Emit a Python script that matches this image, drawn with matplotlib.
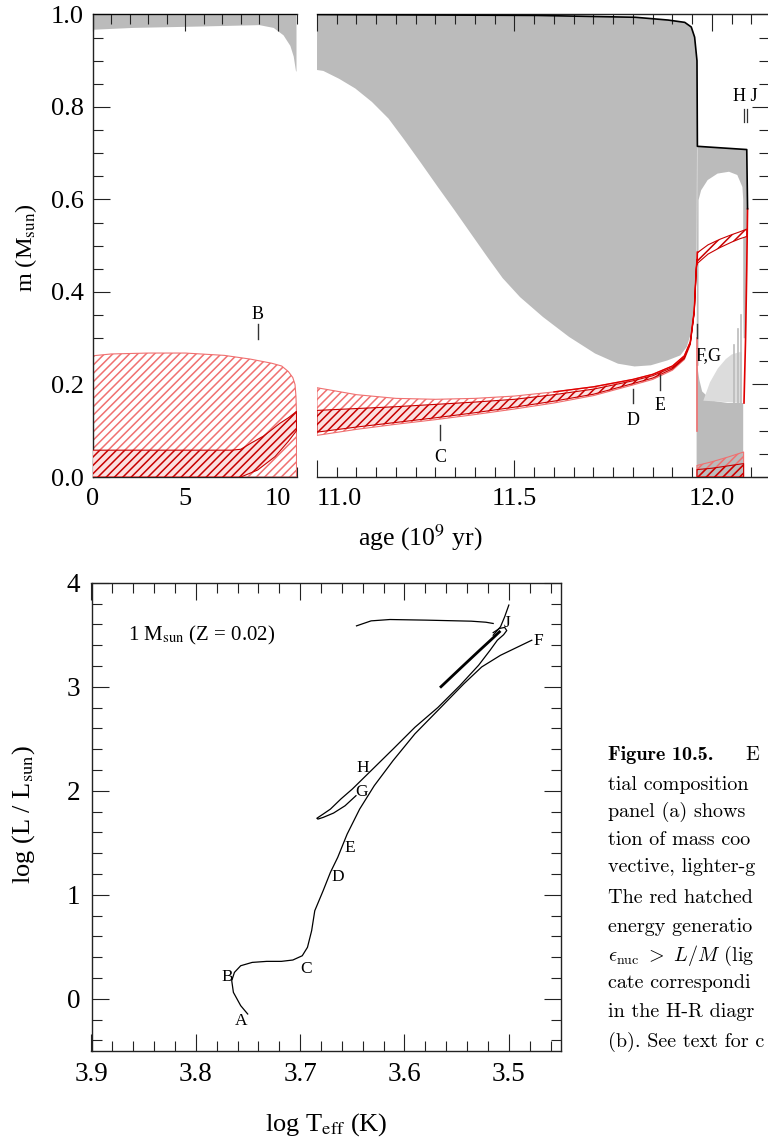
import numpy as np
import matplotlib
matplotlib.use('Agg')
import matplotlib.pyplot as plt
from matplotlib.ticker import MultipleLocator, FixedLocator, FixedFormatter, FormatStrFormatter

plt.rcParams['font.family'] = ['Liberation Serif', 'DejaVu Serif']
plt.rcParams['mathtext.fontset'] = 'stix'
plt.rcParams['hatch.linewidth'] = 1.1
plt.rcParams['axes.unicode_minus'] = False

# ---------------- data: Kippenhahn diagram, main sequence part (Gyr, Msun) ----------------
env_ms_t = [0.0, 2.2, 5.8, 9.0, 9.77, 10.3, 10.67, 10.85, 10.97, 11.0]
env_ms_m = [0.967, 0.971, 0.974, 0.977, 0.971, 0.955, 0.932, 0.909, 0.878, 0.876]

nuc1_ms_t = [0.0, 1.0, 3.0, 5.0, 7.1, 8.5, 9.66, 10.2, 10.56, 10.8, 10.92, 10.97, 11.0, 11.0]
nuc1_ms_m = [0.262, 0.266, 0.268, 0.268, 0.263, 0.255, 0.246, 0.240, 0.228, 0.215, 0.200, 0.175, 0.14, 0.0]

nuc5_ms_top_t = [0.0, 7.5, 8.0, 8.58, 9.2, 9.66, 10.1, 10.56, 10.85, 11.0]
nuc5_ms_top_m = [0.058, 0.058, 0.060, 0.074, 0.088, 0.102, 0.116, 0.128, 0.137, 0.142]
nuc5_ms_bot_t = [11.0, 10.56, 9.84, 8.9, 8.0, 0.0]
nuc5_ms_bot_m = [0.100, 0.077, 0.044, 0.015, 0.0, 0.0]

# ---------------- data: Kippenhahn diagram, giant phases ----------------
env_rg_t = [11.0, 11.016, 11.056, 11.097, 11.139, 11.181, 11.222, 11.264, 11.306, 11.348,
            11.389, 11.431, 11.47, 11.514, 11.572, 11.638, 11.704, 11.762, 11.804, 11.845,
            11.887, 11.920, 11.936, 11.949, 11.957, 11.961, 11.962]
env_rg_m = [0.880, 0.878, 0.861, 0.840, 0.811, 0.775, 0.728, 0.678, 0.627, 0.577,
            0.527, 0.476, 0.430, 0.389, 0.346, 0.303, 0.267, 0.245, 0.239, 0.2415,
            0.252, 0.263, 0.281, 0.317, 0.389, 0.461, 0.70]

surf_t = [11.0, 11.556, 11.806, 11.889, 11.931, 11.9475, 11.956, 11.962, 11.963, 12.088, 12.090]
surf_m = [1.0, 0.998, 0.994, 0.988, 0.983, 0.973, 0.951, 0.90, 0.715, 0.708, 0.58]

# envelope convection after the helium flash (outer outline, then inner white dome)
env_hb_t = [11.961, 11.963, 12.088, 12.089, 12.086, 12.080, 12.075, 11.966]
env_hb_m = [0.24, 0.715, 0.708, 0.58, 0.30, 0.30, 0.60, 0.24]
dome_t = [11.966, 11.966, 11.9725, 11.989, 12.014, 12.043, 12.064, 12.077, 12.079, 12.079]
dome_m = [0.16, 0.599, 0.620, 0.642, 0.656, 0.660, 0.653, 0.627, 0.600, 0.16]

# convective helium-burning core (mid grey) and semiconvection (light grey)
core_t = [11.961, 11.961, 11.968, 11.975, 12.0, 12.04, 12.079, 12.079]
core_m = [0.0, 0.25, 0.21, 0.185, 0.165, 0.160, 0.160, 0.0]
semi_t = [11.978, 11.995, 12.015, 12.035, 12.05, 12.07, 12.075, 12.075]
semi_m = [0.165, 0.205, 0.235, 0.255, 0.265, 0.27, 0.27, 0.160]
spike_t = [12.056, 12.066, 12.074]
spike_m = [0.285, 0.32, 0.35]

# hydrogen-burning shell band
band_t = [11.0, 11.1, 11.2, 11.3, 11.4, 11.5, 11.6, 11.7, 11.8, 11.85, 11.9, 11.93, 11.945, 11.955, 11.96, 11.962]
band1_hi = [0.193, 0.178, 0.170, 0.168, 0.170, 0.175, 0.184, 0.195, 0.211, 0.222, 0.240, 0.262, 0.292, 0.36, 0.45, 0.47]
band1_lo = [0.090, 0.103, 0.114, 0.124, 0.135, 0.147, 0.160, 0.176, 0.199, 0.211, 0.231, 0.254, 0.286, 0.354, 0.445, 0.465]
band5_hi = [0.144, 0.148, 0.152, 0.157, 0.162, 0.168, 0.178, 0.190, 0.208, 0.219, 0.237, 0.259, 0.290, 0.358, 0.448, 0.468]
band5_lo = [0.097, 0.108, 0.118, 0.128, 0.139, 0.151, 0.164, 0.179, 0.202, 0.214, 0.234, 0.256, 0.288, 0.356, 0.446, 0.466]

shell_hb_t = [11.963, 11.99, 12.02, 12.05, 12.07, 12.088]
shell_hb_hi = [0.485, 0.502, 0.514, 0.524, 0.530, 0.536]
shell_hb_lo = [0.462, 0.482, 0.496, 0.508, 0.515, 0.520]

heburn_t = [11.962, 12.0, 12.04, 12.08]
heburn1_hi = [0.025, 0.033, 0.043, 0.054]
heburn5_hi = [0.016, 0.019, 0.024, 0.029]

redline_t = [12.090, 12.088, 12.085, 12.081]
redline_m = [0.58, 0.45, 0.30, 0.16]
lightline_t = [11.961, 11.961]
lightline_m = [0.30, 0.10]

# phase markers in the Kippenhahn diagram: (label, t, tick bottom, tick top, label m)
kip_marks_left = [('B', 8.92, 0.299, 0.331, 0.352)]
kip_marks_right = [('C', 11.311, 0.079, 0.112, 0.043),
                   ('D', 11.800, 0.159, 0.191, 0.123),
                   ('E', 11.868, 0.189, 0.220, 0.155)]

# ---------------- data: H-R diagram ----------------
trk1_logT = [3.7503, 3.757, 3.764, 3.7656, 3.763, 3.757, 3.746, 3.732, 3.718, 3.707, 3.698, 3.693,
             3.689, 3.686, 3.682, 3.678, 3.671, 3.664, 3.655, 3.643, 3.629, 3.611, 3.590, 3.568,
             3.543, 3.526, 3.508, 3.490, 3.478]
trk1_logL = [-0.147, -0.067, 0.061, 0.173, 0.253, 0.317, 0.349, 0.359, 0.359, 0.372, 0.413, 0.494,
             0.654, 0.846, 0.942, 1.038, 1.215, 1.359, 1.582, 1.823, 2.048, 2.289, 2.547, 2.772,
             3.029, 3.190, 3.302, 3.389, 3.447]
trk2_logT = [3.6465, 3.657, 3.668, 3.678, 3.683, 3.684, 3.678, 3.671, 3.661, 3.650, 3.632, 3.611,
             3.590, 3.568, 3.547, 3.529, 3.518, 3.511, 3.505, 3.502, 3.504, 3.509, 3.515]
trk2_logL = [1.952, 1.855, 1.785, 1.743, 1.727, 1.735, 1.775, 1.823, 1.92, 2.016, 2.193, 2.40,
             2.61, 2.80, 3.01, 3.206, 3.35, 3.447, 3.50, 3.54, 3.57, 3.56, 3.52]
tp_logT = [3.565, 3.545, 3.528, 3.515, 3.509]
tp_logL = [3.0, 3.19, 3.35, 3.47, 3.527]
agb_logT = [3.515, 3.508, 3.504, 3.500]
agb_logL = [3.495, 3.576, 3.672, 3.785]
pagb_logT = [3.515, 3.522, 3.536, 3.579, 3.614, 3.632, 3.646]
pagb_logL = [3.608, 3.62, 3.630, 3.64, 3.646, 3.633, 3.585]
hr_labels = ['A', 'B', 'C', 'D', 'E', 'F', 'G', 'H', 'J']
hr_lab_logT = [3.757, 3.770, 3.694, 3.664, 3.652, 3.472, 3.641, 3.640, 3.502]
hr_lab_logL = [-0.21, 0.205, 0.285, 1.167, 1.453, 3.44, 1.99, 2.22, 3.61]

caption_lines = ['tial composition', 'panel (a) shows', 'tion of mass coo',
                 'vective, lighter-g', 'The red hatched', 'energy generatio',
                 r'$\epsilon_{\rm nuc}\ >\ L/M$ (lig', 'cate correspondi', 'in the H-R diagr',
                 '(b). See text for c']

# ---------------- figure ----------------
W, H = 768, 1141
fig = plt.figure(figsize=(W / 100, H / 100), dpi=100)

def px_axes(x0, x1, y0, y1):
    return fig.add_axes([x0 / W, 1 - y1 / H, (x1 - x0) / W, (y1 - y0) / H])

ax1 = px_axes(92.5, 296.5, 14.5, 477)
ax2 = px_axes(317, 769, 14.5, 477)
ax3 = px_axes(91.5, 561, 582.7, 1050.7)

GREY = '#bbbbbb'
LGREY = '#dcdcdc'
LRED = '#f07070'
DRED = '#c80000'
SPC = '#222222'
TICKFS = 19

# --- left Kippenhahn panel ---
ax1.fill(np.r_[env_ms_t, env_ms_t[::-1]], np.r_[env_ms_m, np.ones(len(env_ms_m))],
         color=GREY, lw=0, zorder=1)
ax1.fill(np.r_[nuc1_ms_t, [0.0]], np.r_[nuc1_ms_m, [0.0]], facecolor='white',
         edgecolor=LRED, hatch='////', lw=0.8, zorder=2)
ax1.fill(np.r_[nuc5_ms_top_t, nuc5_ms_bot_t], np.r_[nuc5_ms_top_m, nuc5_ms_bot_m],
         facecolor='#fbe0e0', edgecolor=DRED, hatch='////', lw=0.8, zorder=3)
ax1.plot([0, 11], [1.0, 1.0], color='k', lw=1.2, zorder=5)
for lab, t, m0, m1, ml in kip_marks_left:
    ax1.plot([t, t], [m0, m1], color='#333333', lw=1.0, zorder=6)
    ax1.text(t, ml, lab, ha='center', va='center', fontsize=13)
ax1.set_xlim(0, 11)
ax1.set_ylim(0, 1)
ax1.spines['right'].set_visible(False)
ax1.xaxis.set_major_locator(FixedLocator([0, 5, 10]))
ax1.xaxis.set_minor_locator(MultipleLocator(1))
ax1.yaxis.set_major_locator(MultipleLocator(0.2))
ax1.yaxis.set_minor_locator(MultipleLocator(0.05))
ax1.yaxis.set_major_formatter(FormatStrFormatter('%.1f'))
ax1.tick_params(which='both', direction='in', top=True, right=False, labelsize=TICKFS,
                color=SPC, width=0.8)
ax1.tick_params(which='major', length=12.5, pad=6)
ax1.tick_params(which='minor', length=7)
ax1.tick_params(axis='x', which='major', pad=8)

# --- right Kippenhahn panel ---
ax2.fill(np.r_[env_rg_t, surf_t[:8][::-1]], np.r_[env_rg_m, surf_m[:8][::-1]],
         color=GREY, lw=0, zorder=1)
ax2.fill(env_hb_t, env_hb_m, color=GREY, lw=0, zorder=1)
ax2.fill(dome_t, dome_m, color='white', lw=0, zorder=2)
ax2.fill(core_t, core_m, color=GREY, lw=0, zorder=3)
ax2.fill(semi_t, semi_m, color=LGREY, lw=0, zorder=3)
for t, m in zip(spike_t, spike_m):
    ax2.plot([t, t], [0.16, m], color=GREY, lw=1.2, zorder=3)
ax2.fill_between(band_t, band1_lo, band1_hi, facecolor='white', edgecolor=LRED,
                 hatch='////', lw=0.8, zorder=4)
ax2.fill_between(band_t, band5_lo, band5_hi, facecolor='#fbe0e0', edgecolor=DRED,
                 hatch='////', lw=0.8, zorder=5)
ax2.fill_between(shell_hb_t, shell_hb_lo, shell_hb_hi, facecolor='white', edgecolor=DRED,
                 hatch='////', lw=0.8, zorder=5)
ax2.fill_between(heburn_t, 0, heburn1_hi, facecolor='none', edgecolor=LRED,
                 hatch='////', lw=0.8, zorder=4)
ax2.fill_between(heburn_t, 0, heburn5_hi, facecolor='none', edgecolor=DRED,
                 hatch='////', lw=0.8, zorder=5)
ax2.plot(band_t[6:], band1_hi[6:], color='#e00000', lw=1.0, zorder=6)
ax2.plot(redline_t, redline_m, color='#e00000', lw=1.2, zorder=6)
ax2.plot(lightline_t, lightline_m, color=LRED, lw=1.2, zorder=6)
ax2.plot([11.962, 11.963], [0.46, 0.486], color='#e00000', lw=1.2, zorder=6)
ax2.plot(surf_t, surf_m, color='k', lw=1.2, zorder=7)
for lab, t, m0, m1, ml in kip_marks_right:
    ax2.plot([t, t], [m0, m1], color='#333333', lw=1.0, zorder=8)
    ax2.text(t, ml, lab, ha='center', va='center', fontsize=13)
ax2.plot([11.961, 11.961], [0.30, 0.33], color='#333333', lw=1.0, zorder=8)
ax2.text(11.959, 0.262, 'F,G', ha='left', va='center', fontsize=13)
ax2.plot([12.080, 12.080], [0.768, 0.796], color='#333333', lw=0.9, zorder=8)
ax2.plot([12.089, 12.089], [0.768, 0.796], color='#333333', lw=0.9, zorder=8)
ax2.text(12.084, 0.822, 'H J', ha='center', va='center', fontsize=13)
ax2.set_xlim(11.0, 11.0 + 452 / 395)
ax2.set_ylim(0, 1)
ax2.spines['left'].set_visible(False)
ax2.xaxis.set_major_locator(FixedLocator([11.0, 11.5, 12.0]))
ax2.xaxis.set_major_formatter(FixedFormatter(['11.0', '11.5', '12.0']))
ax2.xaxis.set_minor_locator(MultipleLocator(0.05))
ax2.yaxis.set_major_locator(MultipleLocator(0.2))
ax2.yaxis.set_minor_locator(MultipleLocator(0.05))
ax2.tick_params(which='both', direction='in', top=True, left=False, right=True,
                labelleft=False, labelsize=TICKFS, color=SPC, width=0.8)
ax2.tick_params(which='major', length=12.5, pad=8)
ax2.tick_params(which='minor', length=7)
ax2.get_xticklabels()[0].set_horizontalalignment('left')

for ax in (ax1, ax2, ax3):
    for s in ax.spines.values():
        s.set_color(SPC)
        s.set_linewidth(1.0)

fig.text(26 / W, 1 - 248 / H, r'm (M$_{\rm sun}$)', rotation=90, ha='center', va='center', fontsize=17.5)
fig.text(420 / W, 1 - 538 / H, r'age (10$^9$ yr)', ha='center', va='center', fontsize=18.5)

# --- H-R diagram ---
ax3.plot(trk1_logT, trk1_logL, color='k', lw=0.9)
ax3.plot(trk2_logT, trk2_logL, color='k', lw=0.9)
ax3.plot(tp_logT, tp_logL, color='k', lw=2.0)
ax3.plot(agb_logT, agb_logL, color='k', lw=0.9)
ax3.plot(pagb_logT, pagb_logL, color='k', lw=0.9)
for lab, lt, ll in zip(hr_labels, hr_lab_logT, hr_lab_logL):
    ax3.text(lt, ll, lab, ha='center', va='center', fontsize=12.5)
ax3.text(3.865, 3.495, r'1 M$_{\rm sun}$ (Z = 0.02)', ha='left', va='center', fontsize=15)
ax3.set_xlim(3.9, 3.45)
ax3.set_ylim(-0.5, 4)
ax3.xaxis.set_major_locator(MultipleLocator(0.1))
ax3.xaxis.set_minor_locator(MultipleLocator(0.02))
ax3.yaxis.set_major_locator(MultipleLocator(1))
ax3.yaxis.set_minor_locator(MultipleLocator(0.2))
ax3.xaxis.set_major_formatter(FormatStrFormatter('%.1f'))
ax3.yaxis.set_major_formatter(FormatStrFormatter('%d'))
ax3.tick_params(which='both', direction='in', top=True, right=True, labelsize=19.5,
                color=SPC, width=0.8)
ax3.tick_params(which='major', length=12, pad=8)
ax3.tick_params(which='minor', length=7.5)
fig.text(24 / W, 1 - 815 / H, r'log (L / L$_{\rm sun}$)', rotation=90, ha='center', va='center', fontsize=19)
fig.text(326 / W, 1 - 1125 / H, r'log T$_{\rm eff}$ (K)', ha='center', va='center', fontsize=19)

# --- caption fragment (LaTeX-like Computer Modern) ---
cap_y = [785, 812, 840, 867, 898, 927, 955, 983, 1012, 1042]
fig.text(608 / W, 1 - 755 / H, 'Figure 10.5.', ha='left', va='center', fontsize=14.5,
         family='cmb10')
fig.text(745 / W, 1 - 755 / H, 'E', ha='left', va='center', fontsize=14.5, family='cmr10')
for line, yy in zip(caption_lines, cap_y):
    fig.text(608 / W, 1 - yy / H, line, ha='left', va='center', fontsize=14.5,
             family='cmr10', math_fontfamily='cm')

fig.savefig('out.png', dpi=100)
